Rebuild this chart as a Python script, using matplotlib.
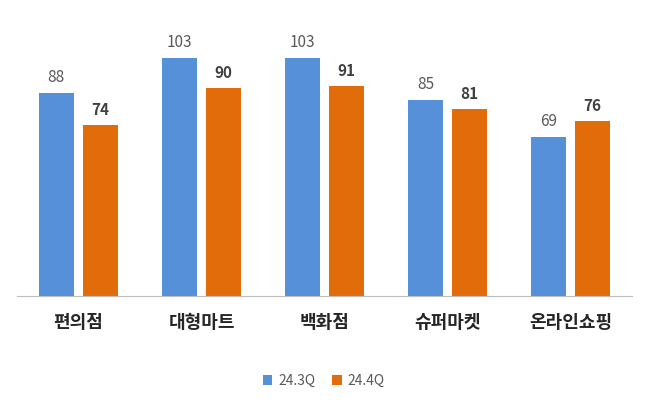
import matplotlib
matplotlib.use("Agg")
import matplotlib.pyplot as plt
import numpy as np

plt.rcParams['font.family'] = ['Noto Sans CJK KR', 'DejaVu Sans']

categories = ['편의점', '대형마트', '백화점', '슈퍼마켓', '온라인쇼핑']
s1_name, s2_name = '24.3Q', '24.4Q'
s1 = [88, 103, 103, 85, 69]
s2 = [74, 90, 91, 81, 76]

fig = plt.figure(figsize=(6.47, 4.05), dpi=100)
ax = fig.add_axes([17/647, 1-296/405, 615/647, (296-42)/405])
x = np.arange(len(categories))
w = 0.28
off = 0.18
c1, c2 = '#5590D8', '#E36C0A'
b1 = ax.bar(x-off, s1, w, color=c1, label=s1_name)
b2 = ax.bar(x+off, s2, w, color=c2, label=s2_name)
for xi, v in zip(x-off, s1):
    ax.text(xi, v+3, str(v), ha='center', va='bottom', fontsize=11, color='#595959')
for xi, v in zip(x+off, s2):
    ax.text(xi, v+3, str(v), ha='center', va='bottom', fontsize=11, color='#404040', fontweight='bold')
ax.set_xlim(-0.5, len(categories)-0.5)
ax.set_ylim(0, 110)
ax.set_yticks([])
ax.set_xticks(x)
ax.set_xticklabels(categories, fontsize=13, fontweight='bold', color='#262626')
ax.tick_params(axis='x', length=0, pad=12)
for s in ['top', 'right', 'left']:
    ax.spines[s].set_visible(False)
ax.spines['bottom'].set_color('#BFBFBF')
fig.legend(handles=[b1, b2], loc='center', bbox_to_anchor=(0.5, 1-381/405), ncol=2,
           frameon=False, fontsize=10, handlelength=0.7, handleheight=0.7,
           columnspacing=1.2, handletextpad=0.4, labelcolor='#595959')
fig.savefig('out.png', dpi=100)
